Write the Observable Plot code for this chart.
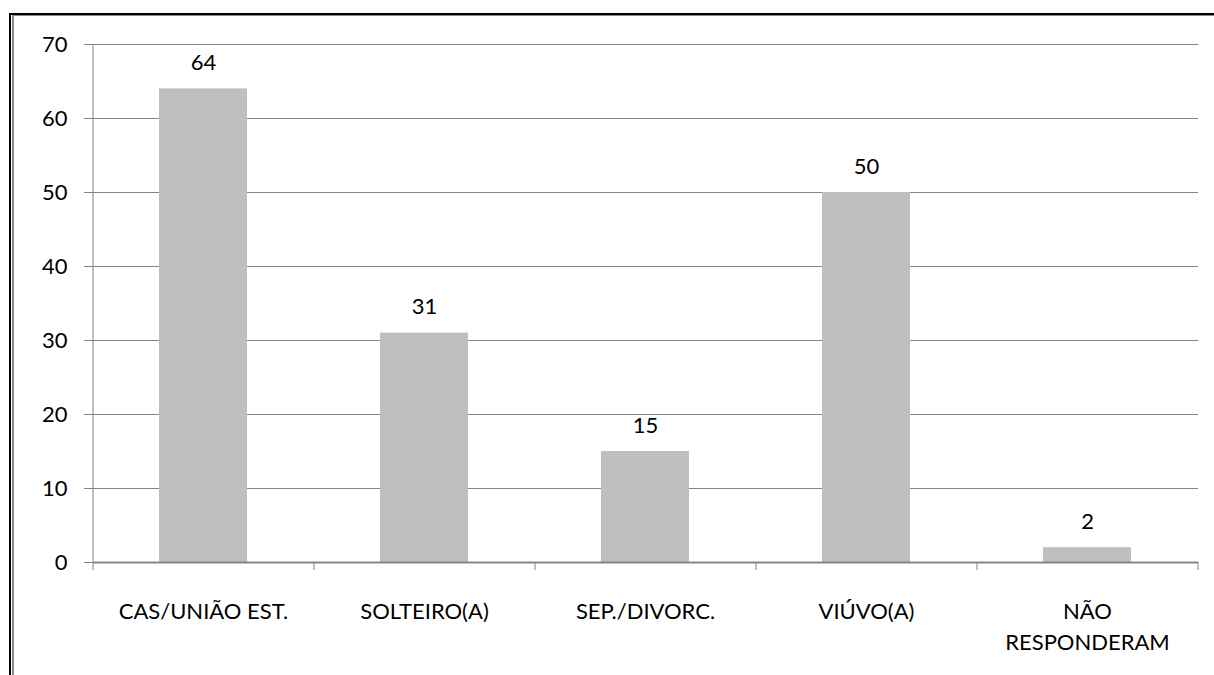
<!DOCTYPE html>
<html>
<head>
<meta charset="utf-8">
<script src="https://cdn.jsdelivr.net/npm/d3@7"></script>
<script src="https://cdn.jsdelivr.net/npm/@observablehq/plot@0.6"></script>
<style>
  html, body { margin: 0; padding: 0; background: #fff; overflow: hidden; }
  #wrap { position: relative; width: 1214px; height: 675px; }
  #outer { position: absolute; left: 9px; top: 13px; width: 1400px; height: 900px;
           border-top: 2px solid #000; border-left: 2px solid #000; }
  #inner { position: absolute; left: 12px; top: 15px; width: 1400px; height: 900px;
           border-top: 1px solid #8a8a8a; border-left: 2px solid #8a8a8a; }
  #chart { position: absolute; left: 0; top: 0; }
</style>
</head>
<body>
<div id="wrap">
  <div id="outer"></div>
  <div id="inner"></div>
  <div id="chart"></div>
</div>
<script>
const categories = ["CAS/UNIÃO EST.", "SOLTEIRO(A)", "SEP./DIVORC.", "VIÚVO(A)", "NÃO\nRESPONDERAM"];
const values = [64, 31, 15, 50, 2];
const yTicks = [0, 10, 20, 30, 40, 50, 60, 70];

const data = categories.map((c, i) => ({category: c, value: values[i]}));

const W = 1214, H = 675;
const mL = 93, mR = 16, mT = 44, mB = 113;
const step = (W - mL - mR) / categories.length;
const gray = "#868686";
const font = 22;

const chart = Plot.plot({
  width: W,
  height: H,
  marginLeft: mL,
  marginRight: mR,
  marginTop: mT,
  marginBottom: mB,
  style: {fontFamily: "Lato, 'Open Sans', sans-serif", fontSize: font + "px", color: "#000", background: "transparent", overflow: "visible"},
  x: {domain: categories, paddingInner: 0.6, paddingOuter: 0.3, label: null},
  y: {domain: [yTicks[0], yTicks[yTicks.length - 1]], label: null},
  marks: [
    Plot.gridY(yTicks, {stroke: gray, strokeOpacity: 1, strokeWidth: 1}),
    Plot.axisY(yTicks, {tickSize: 9, tickPadding: 17, stroke: gray, fontSize: font, label: null, tickFormat: d => String(d)}),
    Plot.barY(data, {x: "category", y: "value", fill: "#bfbfbf"}),
    Plot.ruleY([yTicks[0]], {stroke: gray, strokeWidth: 2}),
    Plot.ruleX([categories[0]], {dx: -step / 2, y1: yTicks[0], y2: yTicks[yTicks.length - 1], stroke: gray, strokeWidth: 1}),
    Plot.axisX(categories, {tickSize: 8, tickFormat: () => "", dx: -step / 2, stroke: gray, label: null}),
    Plot.axisX([categories[categories.length - 1]], {tickSize: 8, tickFormat: () => "", dx: step / 2, stroke: gray, label: null}),
    Plot.axisX(categories, {tickSize: 0, tickPadding: 35, fontSize: font, lineHeight: 1.4, label: null}),
    Plot.text(data, {x: "category", y: "value", text: d => String(d.value), dy: -26, fontSize: font, fill: "#000"})
  ]
});
document.getElementById("chart").appendChild(chart);
</script>
</body>
</html>
